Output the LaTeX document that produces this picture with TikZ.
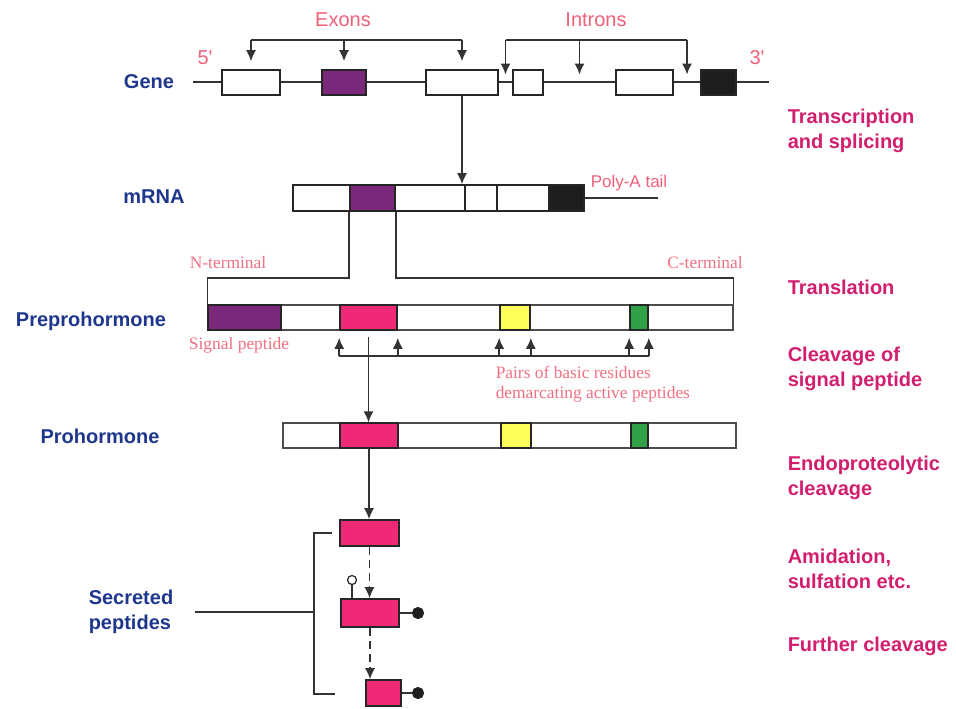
\documentclass[tikz,border=0pt]{standalone}
\usepackage{fontspec}
\setmainfont{Liberation Serif}
\setsansfont{Liberation Sans}
\usetikzlibrary{arrows.meta,fit,calc,positioning}

\definecolor{salmon}{RGB}{240,96,120}
\definecolor{salmonlt}{RGB}{242,112,130}
\definecolor{magtext}{RGB}{210,30,110}
\definecolor{navy}{RGB}{30,55,140}
\definecolor{purp}{RGB}{122,40,122}
\definecolor{hpink}{RGB}{240,40,120}
\definecolor{yel}{RGB}{255,255,90}
\definecolor{grn}{RGB}{50,160,70}
\definecolor{blk}{RGB}{30,30,30}

\tikzset{
  bar/.style={draw=black!70, line width=0.7pt, inner sep=0pt},
  seg/.style={bar, draw=black!85, line width=0.8pt},
  rowlabel/.style={text=navy, font=\sffamily\bfseries\fontsize{10}{12.5}\selectfont, align=left},
  steplabel/.style={text=magtext, font=\sffamily\bfseries\fontsize{10}{12.5}\selectfont, align=left, anchor=west, inner sep=1pt},
  tag/.style={text=salmon, font=\sffamily\fontsize{10}{12}\selectfont},
  note/.style={text=salmonlt, font=\rmfamily\fontsize{8.7}{10}\selectfont, align=left},
  knob/.style={circle, draw=black!85, inner sep=0pt, line width=0.6pt},
  dashline/.style={dash pattern=on 4pt off 2.5pt}
}

\begin{document}
\begin{tikzpicture}[x=0.5pt, y=-0.5pt, line width=0.75pt, draw=black!80,
  >={Latex[length=5.5pt,width=5pt]}]
\useasboundingbox (0,0) rectangle (956,708);

% gene
\draw (193,82) -- (769,82);
\foreach \a/\b/\c/\n in {222/280/white/g1, 322/366/purp/g2, 426/498/white/g3,
  513/543/white/g4, 616/673/white/g5, 701/736/blk/g6}
  \node[seg, fill=\c, fit={(\a,70) (\b,95)}] (\n) {};
\node[tag] (exons) at (343,20) {Exons};
\node[tag] (introns) at (596,20) {Introns};
\node[tag] (five) at (205,58) {5\textquotesingle};
\node[tag] (three) at (757,58) {3\textquotesingle};
\node[rowlabel] (gene) at (149,82) {Gene};

\coordinate (exb) at (0,40);
\draw (g1.north |- exb) -- (g3.north |- exb);
\foreach \n in {g1,g2,g3} \draw[->, shorten >=4pt] (\n.north |- exb) -- (\n.north);
\coordinate (i1) at ($(g3.east)!0.5!(g4.west)$);
\coordinate (i2) at ($(g4.east)!0.5!(g5.west)$);
\coordinate (i3) at ($(g5.east)!0.5!(g6.west)$);
\draw (i1 |- exb) -- (i3 |- exb);
\foreach \n in {i1,i2,i3} \draw[->, shorten >=4pt] (\n |- exb) -- (\n);

% mRNA
\foreach \a/\b/\c/\n in {293/350/white/m1, 350/395/purp/m2, 395/465/white/m3,
  465/497/white/m4, 497/549/white/m5, 549/584/blk/m6}
  \node[seg, fill=\c, fit={(\a,185) (\b,211)}] (\n) {};
\node[rowlabel] (mrna) at (154,197) {mRNA};
\draw[->] (g3.south) -- (g3.south |- m3.north);
\coordinate (tail) at (658,198);
\draw (m6.east) -- (tail);
\node[tag, font=\sffamily\fontsize{8.5}{10}\selectfont] (polya) at (629,183) {Poly-A tail};

% preprohormone
\node[bar, fit={(208,305) (733,330)}] (pp) {};
\foreach \a/\b/\c/\n in {208/281/purp/ppA, 340/397/hpink/ppB, 500/530/yel/ppC, 630/648/grn/ppD}
  \node[seg, fill=\c, fit={(\a,305) (\b,330)}] (\n) {};
\node[rowlabel] (prepro) at (91,321) {Preprohormone};
\coordinate (brk) at (0,278);
\draw (m2.south west) |- (pp.north west |- brk) -- (pp.north west);
\draw (m2.south east) |- (pp.north east |- brk) -- (pp.north east);
\node[note] (nterm) at (228,263) {N-terminal};
\node[note] (cterm) at (705,263) {C-terminal};
\node[note] (sigpep) at (239,345) {Signal peptide};

\coordinate (pb) at (0,356);
\draw (ppB.south west |- pb) -- (ppD.south east |- pb);
\foreach \p in {ppB.south west, ppB.south east, ppC.south west, ppC.south east,
  ppD.south west, ppD.south east}
  \draw[->, shorten >=3.5pt] (\p |- pb) -- (\p);
\node[note, anchor=west, inner sep=0pt] (pairs) at (495,384)
  {Pairs of basic residues\\demarcating active peptides};

% prohormone
\node[bar, fit={(283,423) (736,448)}] (pro) {};
\foreach \a/\b/\c/\n in {340/398/hpink/proB, 501/531/yel/proC, 631/648/grn/proD}
  \node[seg, fill=\c, fit={(\a,423) (\b,448)}] (\n) {};
\node[rowlabel] (prohorm) at (100,436) {Prohormone};
\draw[->, shorten <=3pt] (ppB.south) -- (ppB.south |- pro.north);

% secreted peptides
\node[seg, fill=hpink, fit={(340,520) (399,546)}] (s1) {};
\node[seg, fill=hpink, fit={(341,599) (399,627)}] (s2) {};
\node[seg, fill=hpink, fit={(366,680) (401,706)}] (s3) {};
\draw[->] (proB.south) -- (proB.south |- s1.north);
\draw[->, dashline] (s1.south) -- (s1.south |- s2.north);
\draw[->, dashline] (s2.south) -- (s2.south |- s3.north);

\node[knob, fill=white, minimum size=4.5pt] (open) at (352,580) {};
\draw (open) -- (open |- s2.north);
\node[knob, fill=blk, minimum size=5.5pt] (f1) at (418,613) {};
\node[knob, fill=blk, minimum size=5.5pt] (f2) at (418,693) {};
\draw (s2.east) -- (f1);
\draw (s3.east) -- (f2);

\node[rowlabel] (sec) at (131,612) {Secreted\\peptides};
\coordinate (bb) at (314,694);
\draw ([xshift=-3.5pt]s1.west) -| (bb) -- ++(21,0);
\draw[shorten <=7pt] (sec.east) -- (sec.east -| bb);

% steps
\node[steplabel] (transcr) at (785,131) {Transcription\\and splicing};
\node[steplabel] (transl) at (785,287) {Translation};
\node[steplabel] (cleav) at (785,369) {Cleavage of\\signal peptide};
\node[steplabel] (endo) at (785,478) {Endoproteolytic\\cleavage};
\node[steplabel] (amid) at (785,569) {Amidation,\\sulfation etc.};
\node[steplabel] (further) at (785,646) {Further cleavage};
\end{tikzpicture}
\end{document}
